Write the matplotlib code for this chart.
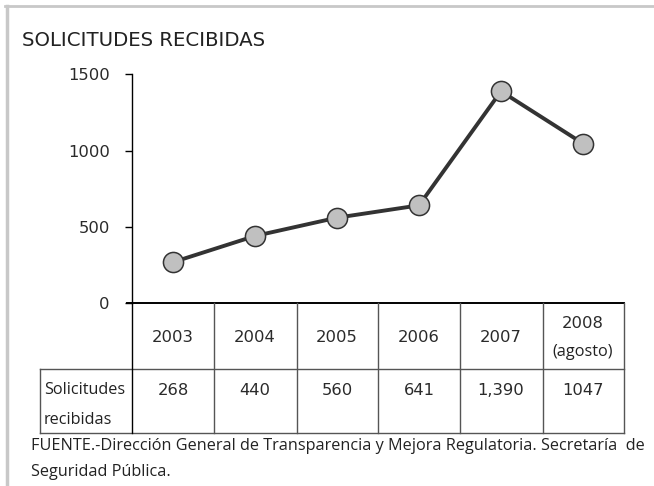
import matplotlib
matplotlib.use("Agg")
import matplotlib.pyplot as plt
from matplotlib.lines import Line2D
import matplotlib.transforms as mtransforms

years = ["2003", "2004", "2005", "2006", "2007", "2008\n(agosto)"]
values = [268, 440, 560, 641, 1390, 1047]
value_labels = ["268", "440", "560", "641", "1,390", "1047"]
yticks = [0, 500, 1000, 1500]
title = "SOLICITUDES RECIBIDAS"
row_label = "Solicitudes\nrecibidas"
source = ("FUENTE.-Dirección General de Transparencia y Mejora Regulatoria. Secretaría  de\n"
          "Seguridad Pública.")

W, H = 654, 486
fig = plt.figure(figsize=(W / 100, H / 100), dpi=100)

def fx(x):
    return x / W

def fy(y):
    return 1 - y / H

def hline(x0, x1, y, color="#555555", lw=1.0):
    fig.add_artist(Line2D([fx(x0), fx(x1)], [fy(y), fy(y)], color=color, lw=lw,
                          transform=fig.transFigure))

def vline(x, y0, y1, color="#555555", lw=1.0):
    fig.add_artist(Line2D([fx(x), fx(x)], [fy(y0), fy(y1)], color=color, lw=lw,
                          transform=fig.transFigure))

num_font = dict(family="DejaVu Sans", fontsize=11.8, color="#2a2a2a")
txt_font = dict(family="Open Sans", fontsize=11.7, color="#222222")

# plot area, x axis spans the table columns
ax_left, ax_right, y0px, y1500px = 132, 624, 303, 74.5
ax = fig.add_axes([fx(ax_left), fy(y0px), fx(ax_right - ax_left), (y0px - y1500px) / H])
xs = list(range(len(values)))
ax.plot(xs, values, color="#333333", lw=2.8, marker="o", markersize=14.5,
        markerfacecolor="#c0c0c0", markeredgecolor="#333333", markeredgewidth=1.1,
        clip_on=False, zorder=3)
ax.set_xlim(-0.5, len(values) - 0.5)
ax.set_ylim(0, 1500)
ax.set_yticks(yticks)
ax.set_xticks([])
for s in ["top", "right", "bottom"]:
    ax.spines[s].set_visible(False)
ax.spines["left"].set_color("black")
ax.spines["left"].set_linewidth(1.0)
ax.tick_params(axis="y", direction="out", length=5, width=1, pad=11,
               colors="black")
ax.set_yticklabels([str(t) for t in yticks], **num_font)

# table
tbl_top, tbl_mid, tbl_bot, tbl_left = 303, 369, 433, 40
col_edges = [132, 214, 297, 378, 460, 543, 624]
hline(127, 624, tbl_top, color="black", lw=1.4)
hline(tbl_left, 624, tbl_mid)
hline(tbl_left, 624, tbl_bot)
vline(tbl_left, tbl_mid, tbl_bot)
vline(132, tbl_top, tbl_bot, color="black")
for xe in col_edges[1:]:
    vline(xe, tbl_top, tbl_bot)

blend = mtransforms.blended_transform_factory(ax.transData, fig.transFigure)
for i, (yr, v) in enumerate(zip(years, value_labels)):
    if "\n" in yr:
        top, bot = yr.split("\n")
        fig.text(i, fy(323), top, transform=blend, ha="center", va="center", **num_font)
        fig.text(i, fy(352), bot, transform=blend, ha="center", va="center", **txt_font)
    else:
        fig.text(i, fy(337), yr, transform=blend, ha="center", va="center", **num_font)
    fig.text(i, fy(390), v, transform=blend, ha="center", va="center", **num_font)

r1, r2 = row_label.split("\n")
fig.text(fx(44), fy(390), r1, ha="left", va="center", **txt_font)
fig.text(fx(44), fy(420), r2, ha="left", va="center", **txt_font)

# title and source
fig.text(fx(22), fy(41), title, ha="left", va="center", fontsize=14.2,
         color="#222222", family="DejaVu Sans")
s1, s2 = source.split("\n")
fig.text(fx(31), fy(446), s1, ha="left", va="center", **txt_font)
fig.text(fx(31), fy(472), s2, ha="left", va="center", **txt_font)

# outer frame (left and top edges)
vline(6.5, 6.5, H, color="#c8c8c8", lw=2.5)
hline(5, W, 6.5, color="#c8c8c8", lw=2.0)

fig.savefig("out.png", dpi=100)
